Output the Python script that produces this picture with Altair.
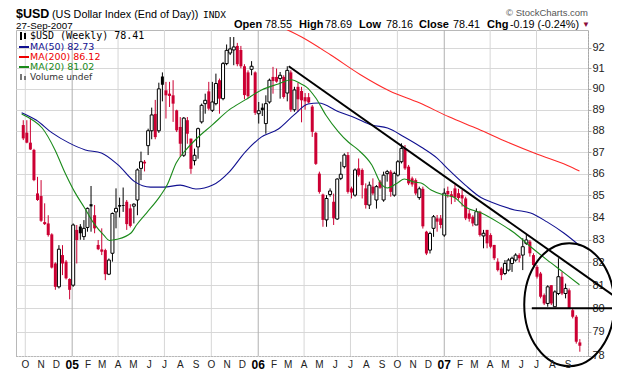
import altair as alt
import pandas as pd

START = "2004-09-27"  # Monday of the first weekly candle

opens = [88.27, 87.91, 87.44, 87.10, 85.09, 84.97, 83.79, 83.73, 83.24, 81.95,
         80.93, 82.32, 82.03, 81.27, 81.00, 83.44, 83.59, 83.14, 83.55, 84.60,
         84.10, 82.77, 82.57, 82.54, 81.48, 82.40, 84.25, 84.56, 84.56, 84.71,
         84.41, 84.51, 84.79, 86.24, 86.55, 87.30, 88.00, 88.80, 88.00, 90.60,
         89.93, 89.77, 89.69, 88.97, 88.18, 86.85, 88.50, 87.63, 86.60, 87.24,
         88.42, 89.29, 89.88, 88.97, 89.29, 90.42, 89.53, 91.23, 91.75, 91.90,
         92.10, 91.90, 91.10, 90.80, 90.95, 90.80, 88.81, 89.10, 88.34, 89.37,
         90.58, 90.58, 90.50, 90.58, 89.80, 90.80, 89.00, 90.10, 89.90, 89.60,
         89.60, 89.15, 87.90, 86.00, 85.04, 83.89, 85.04, 84.71, 83.93, 85.78,
         86.32, 86.86, 85.32, 85.01, 86.24, 86.17, 85.32, 84.56, 85.40, 84.79,
         85.63, 84.79, 86.00, 86.09, 85.01, 85.93, 86.55, 87.17, 86.32, 85.78,
         85.70, 84.90, 85.30, 83.36, 82.54, 83.51, 83.96, 83.96, 83.21, 85.20,
         85.05, 85.32, 85.10, 85.02, 84.86, 84.18, 84.03, 83.66, 84.26, 83.17,
         83.44, 83.21, 82.77, 82.03, 81.73, 81.51, 81.66, 81.95, 82.10, 82.32,
         82.32, 82.84, 82.92, 82.32, 81.80, 81.51, 80.57, 80.21, 81.00, 80.07,
         80.64, 81.37, 80.64, 80.78, 79.92, 79.64, 78.55]
highs = [88.50, 88.50, 88.59, 87.15, 85.85, 85.70, 84.64, 84.10, 83.29, 82.00,
         82.76, 82.76, 82.10, 81.30, 83.73, 83.66, 83.70, 83.88, 84.45, 85.43,
         84.56, 82.99, 83.51, 82.60, 82.17, 84.22, 85.32, 84.90, 85.36, 84.79,
         84.60, 84.64, 86.24, 87.02, 86.63, 88.10, 89.10, 89.47, 90.30, 90.80,
         90.34, 90.34, 90.42, 89.00, 88.65, 88.65, 88.65, 87.63, 87.16, 88.15,
         89.29, 89.77, 90.34, 90.34, 90.74, 90.50, 91.31, 92.17, 92.54, 92.54,
         92.25, 92.10, 91.20, 90.90, 91.35, 90.85, 89.37, 89.30, 89.69, 90.50,
         91.07, 90.99, 90.82, 90.66, 91.10, 90.90, 90.10, 90.30, 90.10, 89.80,
         89.80, 89.23, 87.95, 86.09, 85.08, 85.01, 85.32, 85.08, 85.78, 86.55,
         86.94, 87.00, 85.40, 86.24, 86.70, 86.24, 85.55, 85.63, 85.78, 85.47,
         85.70, 86.09, 86.17, 86.17, 86.09, 86.63, 87.41, 87.33, 86.40, 85.86,
         85.78, 85.40, 85.40, 83.40, 83.36, 84.11, 84.11, 84.11, 85.32, 85.40,
         85.20, 85.50, 85.30, 85.25, 84.94, 84.34, 84.10, 84.41, 84.30, 83.44,
         83.44, 83.29, 82.77, 82.18, 81.80, 82.10, 82.18, 82.25, 82.40, 82.40,
         83.07, 83.21, 82.99, 82.40, 81.88, 81.58, 80.64, 81.00, 81.00, 80.78,
         82.18, 81.58, 81.07, 80.86, 80.00, 79.71, 78.69]
lows = [87.56, 87.41, 87.10, 85.65, 84.75, 83.80, 83.66, 83.14, 81.73, 80.80,
        80.86, 81.44, 81.25, 80.39, 80.93, 81.95, 83.00, 82.99, 83.36, 83.36,
        83.29, 82.54, 82.32, 81.22, 81.44, 82.03, 83.51, 84.00, 84.25, 83.44,
        83.55, 83.73, 84.10, 85.70, 86.10, 86.86, 87.60, 87.60, 87.90, 89.40,
        88.58, 89.13, 88.42, 87.94, 86.77, 86.77, 87.39, 85.99, 86.38, 86.69,
        88.34, 88.81, 88.97, 88.89, 89.21, 88.81, 89.45, 91.15, 91.65, 91.15,
        91.10, 91.00, 89.50, 89.55, 90.66, 88.75, 88.34, 88.70, 87.86, 89.29,
        89.77, 90.30, 89.53, 89.53, 89.40, 88.90, 88.90, 88.90, 88.40, 89.00,
        89.30, 87.71, 86.40, 85.08, 83.58, 83.58, 84.94, 83.66, 83.89, 85.70,
        86.24, 85.08, 84.86, 84.94, 85.86, 84.86, 84.40, 84.38, 85.01, 84.40,
        85.30, 84.71, 85.63, 84.94, 84.94, 85.86, 86.47, 86.17, 85.47, 85.40,
        85.01, 84.80, 83.50, 82.32, 82.39, 83.13, 83.36, 83.51, 83.13, 84.90,
        84.60, 84.70, 84.80, 84.49, 83.88, 83.81, 83.60, 83.66, 83.14, 82.62,
        82.62, 82.62, 82.10, 81.60, 81.22, 81.44, 81.60, 81.58, 82.03, 82.00,
        81.66, 82.77, 82.25, 81.80, 81.29, 80.43, 80.14, 80.07, 80.14, 80.07,
        80.57, 80.57, 80.43, 80.00, 79.57, 78.50, 78.16]
closes = [87.64, 87.44, 87.12, 85.70, 84.79, 83.85, 83.70, 83.21, 81.77, 80.93,
          82.58, 81.95, 81.30, 80.80, 83.66, 82.99, 83.29, 83.51, 84.41, 84.50,
          83.51, 82.58, 82.47, 81.48, 82.10, 84.18, 84.41, 84.49, 84.52, 83.70,
          83.62, 84.60, 86.17, 86.55, 86.47, 88.00, 88.75, 87.70, 90.00, 90.20,
          89.69, 89.66, 89.29, 88.02, 87.39, 88.60, 87.86, 86.22, 86.85, 88.10,
          89.21, 89.45, 89.05, 89.37, 90.26, 89.53, 91.23, 91.88, 91.95, 92.05,
          91.20, 91.10, 89.70, 89.65, 91.10, 88.85, 88.95, 88.98, 89.29, 90.42,
          90.38, 90.35, 90.66, 89.61, 90.90, 89.00, 89.95, 89.50, 89.45, 89.40,
          89.35, 87.95, 86.45, 85.16, 83.89, 84.86, 85.20, 83.96, 85.75, 85.97,
          86.86, 85.16, 85.13, 86.17, 85.93, 85.47, 84.56, 85.47, 85.09, 85.40,
          85.35, 85.93, 86.09, 85.16, 86.01, 86.55, 87.17, 86.24, 85.55, 85.50,
          85.09, 85.30, 83.60, 82.39, 83.28, 84.03, 83.81, 83.66, 85.10, 85.05,
          84.95, 84.90, 84.88, 84.86, 83.96, 83.94, 83.73, 84.26, 83.21, 83.29,
          82.84, 82.69, 82.18, 81.66, 81.44, 81.95, 82.10, 82.18, 82.32, 82.18,
          82.69, 82.99, 82.40, 81.88, 81.37, 80.50, 80.21, 80.93, 80.21, 80.71,
          81.37, 80.64, 80.86, 80.00, 79.64, 78.58, 78.41]

# Moving averages: (week offset from START, value)
ma50_week = [-0.45, 3.6, 8.1, 12.8, 17.4, 21.9, 26.6, 31.2, 35.7, 39.4, 44.0, 48.4,
             53.1, 57.7, 62.2, 66.8, 71.5, 75.9, 79.8, 82.8, 88.4, 93.1, 97.7, 102.1,
             106.8, 111.5, 115.9, 119.3, 123.9, 128.4, 131.1, 137.7, 142.2, 146.8,
             151.5, 156.0]
ma50_val = [88.86, 88.51, 87.90, 87.43, 87.10, 86.96, 86.40, 85.63, 85.38, 85.38, 85.47, 85.29,
            85.47, 86.07, 87.00, 87.71, 88.08, 88.75, 89.27, 89.32, 88.90, 88.61, 88.27, 88.13,
            87.71, 87.24, 86.73, 86.17, 85.47, 84.89, 84.70, 84.34, 84.20, 83.80,
            83.30, 82.73]
ma200_week = [72.8, 77.9, 86.2, 94.4, 102.7, 111.0, 119.3, 127.5, 135.8, 144.1, 152.4, 155.9]
ma200_val = [93.00, 92.55, 91.65, 90.70, 89.90, 89.33, 88.66, 88.08, 87.46, 86.90, 86.39, 86.12]
ma20_week = [-0.45, 2.6, 5.3, 8.9, 11.7, 14.4, 17.2, 19.9, 22.7, 24.1, 26.3, 30.2, 31.8,
             34.6, 38.4, 40.4, 42.9, 45.6, 48.4, 53.0, 57.7, 62.2, 66.8, 71.5, 75.1, 77.9,
             79.3, 82.0, 84.8, 88.4, 91.1, 93.9, 97.7, 100.5, 102.1, 104.9, 106.8, 109.6,
             111.5, 114.3, 117.9, 120.6, 123.9, 128.4, 133.0, 137.7, 142.2, 146.8, 151.5,
             155.9]
ma20_val = [88.80, 88.51, 88.13, 87.10, 86.04, 85.16, 84.43, 83.71, 83.18, 82.97, 83.02, 83.30, 83.67,
            84.21, 84.98, 85.50, 86.50, 87.10, 87.60, 88.28, 88.99, 89.47, 89.95, 90.24, 90.44, 90.24,
            90.10, 89.56, 88.75, 87.94, 87.47, 87.10, 86.40, 85.48, 85.34, 85.57, 85.75, 85.61,
            85.57, 85.25, 85.02, 84.93, 84.47, 84.20, 83.79, 83.30, 82.69, 82.11, 81.55,
            81.02]

# Hand-drawn annotations
trend_dates = ["2006-03-01T19:00:00Z", "2007-12-02T21:00:00Z"]
trend_vals = [91.10, 80.49]
support_dates = ["2007-06-21T19:00:00Z", "2007-12-02T21:00:00Z"]
support_val = 80.0
circle_date = "2007-09-03T05:00:00Z"
circle_val = 80.16

y_ticks = list(range(78, 93))
month_dates = pd.date_range("2004-10-01", "2007-09-01", freq="MS")
month_labels = [d.strftime("%y") if d.month == 1 else d.strftime("%b")[0] for d in month_dates]
grid_dates = [d for d in month_dates if d.month in (1, 4, 7, 10)]

RED = "#cc0033"
BLUE = "#101090"
MARED = "#ff2a2a"
GREEN = "#1a8a1a"

# ---------------------------------------------------------------- data frames
dates = pd.date_range(START, periods=len(opens), freq="7D")
prev = [None] + closes[:-1]
df = pd.DataFrame({
    "date": dates.strftime("%Y-%m-%d"),
    "open": opens, "high": highs, "low": lows, "close": closes,
})
df["col"] = [RED if (p is None or c < p) else "#000000" for c, p in zip(closes, prev)]

months_df = pd.DataFrame({
    "date": month_dates.strftime("%Y-%m-%d"),
    "lab": month_labels,
    "year": [d.month == 1 for d in month_dates],
})
grid_df = pd.DataFrame({
    "date": [d.strftime("%Y-%m-%d") for d in grid_dates],
    "year": [d.month == 1 for d in grid_dates],
})


def ma_frame(weeks, vals):
    d = pd.Timestamp(START) + pd.to_timedelta([w * 7 for w in weeks], unit="D")
    return pd.DataFrame({"date": d.strftime("%Y-%m-%dT%H:%M:%SZ"), "v": vals})


x_scale = alt.Scale(type="utc", domain=[
    alt.DateTime(year=2004, month=9, date=22, hours=14, utc=True),
    alt.DateTime(year=2007, month=9, date=30, hours=5, utc=True)])
y_scale = alt.Scale(type="log", domain=[77.98, 92.89], nice=False)

x_axis = alt.Axis(labels=False, ticks=False, grid=False, domainColor="#999999",
                  domainDash=[1, 2], title=None)
y_axis = alt.Axis(
    orient="right", values=y_ticks, format="d", grid=True, gridColor="#d8d8d8",
    tickSize=3, tickColor="#aaaaaa", labelPadding=1, labelFontSize=11,
    labelFont="Liberation Sans", labelColor="#222222", domainColor="#999999",
    domainDash=[1, 2], labelAlign="left", labelBaseline="middle",
    labelOverlap=False, labelFlush=False, title=None)

vgrid = alt.Chart(grid_df).mark_rule(strokeWidth=1).encode(
    x=alt.X("date:T", scale=x_scale, axis=x_axis),
    color=alt.condition("datum.year", alt.value("#b0b0b0"), alt.value("#d6d6d6")))

month_text_bold = alt.Chart(months_df).transform_filter("datum.year").mark_text(
    baseline="middle", align="center", font="Liberation Sans", fontWeight="bold",
    fontSize=12, color="#000000").encode(x="date:T", y=alt.value(335), text="lab:N")
month_text_plain = alt.Chart(months_df).transform_filter("!datum.year").mark_text(
    baseline="middle", align="center", font="Liberation Sans",
    fontSize=10, color="#222222").encode(x="date:T", y=alt.value(335), text="lab:N")

base = alt.Chart(df)
wick = base.mark_rule(strokeWidth=1).encode(
    x=alt.X("date:T"),
    y=alt.Y("low:Q", scale=y_scale, axis=y_axis),
    y2="high:Q",
    color=alt.Color("col:N", scale=None))
body_filled = base.transform_filter("datum.close < datum.open").mark_bar(width=3).encode(
    x="date:T", y="open:Q", y2="close:Q", fill=alt.Fill("col:N", scale=None))
body_hollow = base.transform_filter("datum.close >= datum.open").mark_bar(
    width=3, fill="white", strokeWidth=1).encode(
    x="date:T", y="open:Q", y2="close:Q", stroke=alt.Stroke("col:N", scale=None))


def ma_line(weeks, vals, color):
    return alt.Chart(ma_frame(weeks, vals)).mark_line(
        color=color, strokeWidth=1.1, clip=True, interpolate="monotone").encode(
        x="date:T", y="v:Q")


ma50 = ma_line(ma50_week, ma50_val, BLUE)
ma200 = ma_line(ma200_week, ma200_val, MARED)
ma20 = ma_line(ma20_week, ma20_val, GREEN)

trend = alt.Chart(pd.DataFrame({"d1": [trend_dates[0]], "d2": [trend_dates[1]],
                                "v1": [trend_vals[0]], "v2": [trend_vals[1]]})).mark_rule(
    color="black", strokeWidth=2).encode(x="d1:T", x2="d2:T", y="v1:Q", y2="v2:Q")
support = alt.Chart(pd.DataFrame({"d1": [support_dates[0]], "d2": [support_dates[1]],
                                  "v": [support_val]})).mark_rule(
    color="black", strokeWidth=2).encode(x="d1:T", x2="d2:T", y="v:Q")

ELLIPSE = "M -0.7317 0 A 0.7317 1 0 1 0 0.7317 0 A 0.7317 1 0 1 0 -0.7317 0 Z"
circle = alt.Chart(pd.DataFrame({"date": [circle_date], "v": [circle_val]})).mark_point(
    shape=ELLIPSE, size=15129, filled=False, stroke="black", strokeWidth=2, opacity=1).encode(
    x="date:T", y="v:Q")


def label(text, x, y, size=11, weight="normal", color="#000000",
          font="Liberation Sans", align="left", baseline="alphabetic"):
    return alt.Chart(pd.DataFrame({"t": [text]})).mark_text(
        align=align, baseline=baseline, font=font, fontSize=size,
        fontWeight=weight, color=color).encode(
        x=alt.value(x), y=alt.value(y), text="t:N")


def dash(x1, x2, y, color, w=2):
    return alt.Chart(pd.DataFrame({"t": [0]})).mark_rule(
        color=color, strokeWidth=w).encode(x=alt.value(x1), x2=alt.value(x2), y=alt.value(y))


def vbar(x, y1, y2, color, w=1):
    return alt.Chart(pd.DataFrame({"t": [0]})).mark_rule(
        color=color, strokeWidth=w).encode(x=alt.value(x), y=alt.value(y1), y2=alt.value(y2))


texts = [
    label("$USD", 0, -12, size=12.5, weight="bold"),
    label("(US Dollar Index (End of Day))", 36, -12, size=10.8),
    label("INDX", 187, -12.5, size=9.5, font="DejaVu Sans Mono"),
    label("27-Sep-2007", 0, -1, size=9.8),
    label("Open", 218, -2.5, size=11, weight="bold"),
    label("78.55", 249, -2.5, size=10.8),
    label("High", 283, -2.5, size=11, weight="bold"),
    label("78.69", 309, -2.5, size=10.8),
    label("Low", 343, -2.5, size=11, weight="bold"),
    label("78.16", 370, -2.5, size=10.8),
    label("Close", 403, -2.5, size=11, weight="bold"),
    label("78.41", 437, -2.5, size=10.8),
    label("Chg", 471, -2.5, size=11, weight="bold"),
    label("-0.19 (-0.24%)", 494, -2.5, size=10.8),
    label("\u25bc", 566, -3.5, size=8, color="#8b0a3a"),
    label("\u00a9 StockCharts.com", 572, -14, size=9.5, color="#555555", align="right"),
    # legend
    label("$USD (Weekly) 78.41", 14, 6, size=10, font="DejaVu Sans Mono", baseline="middle"),
    label("MA(50) 82.73", 14, 17, size=9.5, font="DejaVu Sans", color=BLUE, baseline="middle"),
    label("MA(200) 86.12", 14, 27, size=9.5, font="DejaVu Sans", color="#ee0000", baseline="middle"),
    label("MA(20) 81.02", 14, 37, size=9.5, font="DejaVu Sans", color=GREEN, baseline="middle"),
    label("Volume undef", 14, 47, size=9, font="DejaVu Sans", color="#333333", baseline="middle"),
    dash(3, 13, 17, BLUE),
    dash(3, 13, 27, "#ee0000"),
    dash(3, 13, 37, GREEN),
    vbar(5, 2, 10, "#000000", 2),
    vbar(9, 3, 9, "#000000", 2),
    vbar(5, 44, 50, "#777777", 2),
    vbar(9, 46, 50, "#777777", 2),
]

chart = alt.layer(
    vgrid, wick, body_filled, body_hollow, ma50, ma200, ma20, trend, support, circle,
    month_text_plain, month_text_bold, *texts
).properties(
    width=572, height=326, autosize="none",
    padding={"left": 8, "top": 22, "right": 24, "bottom": 20},
    background="white",
).configure_view(stroke="#b8b8b8", strokeWidth=1)

chart.save("out.html", embed_options={"renderer": "svg", "actions": False})
